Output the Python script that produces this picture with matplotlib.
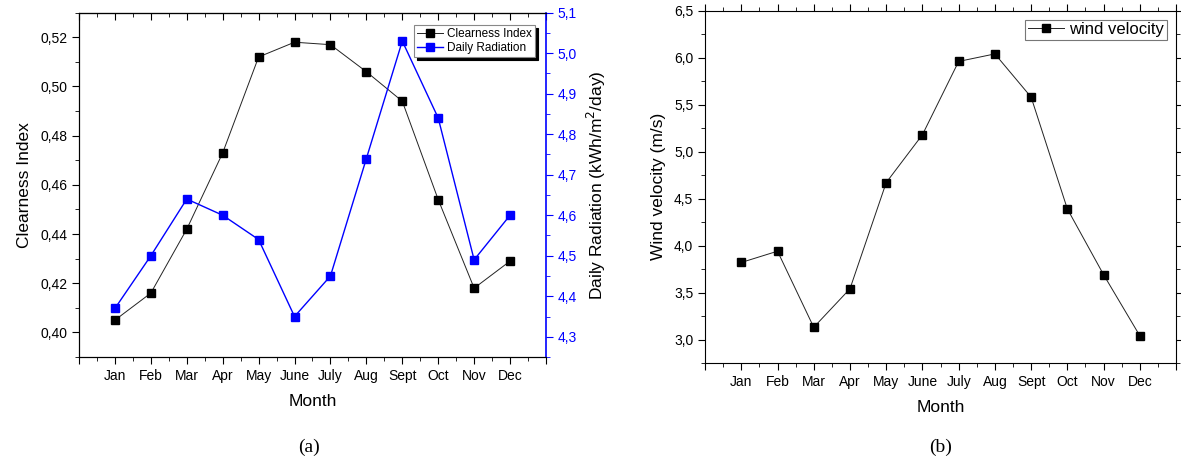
import matplotlib
matplotlib.use("Agg")
import matplotlib.pyplot as plt
from matplotlib import ticker

months = ['Jan', 'Feb', 'Mar', 'Apr', 'May', 'June', 'July', 'Aug', 'Sept',
          'Oct', 'Nov', 'Dec']
clearness = [0.405, 0.416, 0.442, 0.473, 0.512, 0.518, 0.517, 0.506, 0.494,
             0.454, 0.418, 0.429]
radiation = [4.37, 4.50, 4.64, 4.60, 4.54, 4.35, 4.45, 4.74, 5.03, 4.84,
             4.49, 4.60]
wind = [3.82, 3.94, 3.13, 3.54, 4.67, 5.18, 5.96, 6.04, 5.58, 4.39, 3.69,
        3.04]

plt.rcParams['font.family'] = ['Liberation Sans', 'DejaVu Sans']
x = list(range(1, 13))


def comma(fmt):
    return ticker.FuncFormatter(lambda v, p: (fmt % v).replace('.', ','))


def month_axis(ax):
    ax.set_xlim(0, 13)
    ax.set_xticks(range(0, 14))
    ax.set_xticklabels([''] + months + [''])
    ax.xaxis.set_minor_locator(ticker.MultipleLocator(0.5))
    ax.set_xlabel('Month', fontsize=12.5, labelpad=8)


fig = plt.figure(figsize=(11.81, 4.67), dpi=100)

# (a) clearness index + daily radiation
ax1 = fig.add_axes([0.0669, 0.2355, 0.3954, 0.7373])
ax1.plot(x, clearness, color='#222222', lw=0.7, marker='s', ms=5.5,
         mfc='black', mec='black', label='Clearness Index')
month_axis(ax1)
ax1.set_ylim(0.39, 0.53)
ax1.yaxis.set_major_locator(ticker.MultipleLocator(0.02))
ax1.yaxis.set_minor_locator(ticker.MultipleLocator(0.01))
ax1.yaxis.set_major_formatter(comma('%.2f'))
ax1.set_ylabel('Clearness Index', fontsize=12.5, labelpad=6)
ax1.tick_params(axis='both', which='major', length=5, labelsize=10)
ax1.tick_params(axis='both', which='minor', length=3)
ax1.tick_params(axis='x', which='both', top=False, direction='out')
ax1.spines['right'].set_visible(False)

# top ticks point inward
top1 = ax1.secondary_xaxis('top')
top1.set_xticks(range(0, 14))
top1.xaxis.set_minor_locator(ticker.MultipleLocator(0.5))
top1.tick_params(which='major', direction='in', length=5, labeltop=False)
top1.tick_params(which='minor', direction='in', length=3)

ax2 = ax1.twinx()
ax2.plot(x, radiation, color='blue', lw=1.0, marker='s', ms=5.5,
         mfc='blue', mec='blue', label='Daily Radiation')
ax2.set_ylim(4.25, 5.1)
ax2.yaxis.set_major_locator(ticker.MultipleLocator(0.1))
ax2.yaxis.set_minor_locator(ticker.MultipleLocator(0.05))
ax2.yaxis.set_major_formatter(comma('%.1f'))
ax2.spines['right'].set_color('blue')
ax2.spines['right'].set_linewidth(1.2)
ax2.tick_params(axis='y', which='major', colors='blue', length=5,
                labelsize=10)
ax2.tick_params(axis='y', which='minor', colors='blue', length=3)
ax2.set_ylabel('Daily Radiation (kWh/m$^2$/day)', fontsize=12.5, labelpad=6)

h1, l1 = ax1.get_legend_handles_labels()
h2, l2 = ax2.get_legend_handles_labels()
leg = ax2.legend(h1 + h2, l1 + l2, loc='upper right',
                 bbox_to_anchor=(0.977, 0.965), fontsize=8.5, frameon=True,
                 fancybox=False, shadow={'color': 'black', 'alpha': 1},
                 edgecolor='#888888', handlelength=2.2, borderpad=0.25,
                 labelspacing=0.2, handletextpad=0.4, borderaxespad=0)
leg.get_frame().set_linewidth(0.8)

fig.text(0.262, 0.033, '(a)', fontsize=14, family='Liberation Serif',
         ha='center')

# (b) wind velocity
ax3 = fig.add_axes([0.597, 0.2227, 0.3988, 0.7544])
ax3.plot(x, wind, color='#222222', lw=0.7, marker='s', ms=5.5,
         mfc='black', mec='black', label='wind velocity')
month_axis(ax3)
ax3.set_ylim(2.75, 6.5)
ax3.yaxis.set_major_locator(ticker.MultipleLocator(0.5))
ax3.yaxis.set_minor_locator(ticker.MultipleLocator(0.25))
ax3.yaxis.set_major_formatter(comma('%.1f'))
ax3.set_ylabel('Wind velocity (m/s)', fontsize=12.5, labelpad=6)
ax3.tick_params(axis='both', which='major', length=5, labelsize=10,
                top=True, right=True)
ax3.tick_params(axis='both', which='minor', length=3, top=True, right=True)
leg3 = ax3.legend(loc='upper right', bbox_to_anchor=(0.98, 0.975),
                  fontsize=12, fancybox=False, edgecolor='#555555',
                  handlelength=2.2, borderpad=0.15, handletextpad=0.3,
                  borderaxespad=0)
leg3.get_frame().set_linewidth(0.8)

fig.text(0.796, 0.033, '(b)', fontsize=14, family='Liberation Serif',
         ha='center')

fig.savefig('out.png', dpi=100)
